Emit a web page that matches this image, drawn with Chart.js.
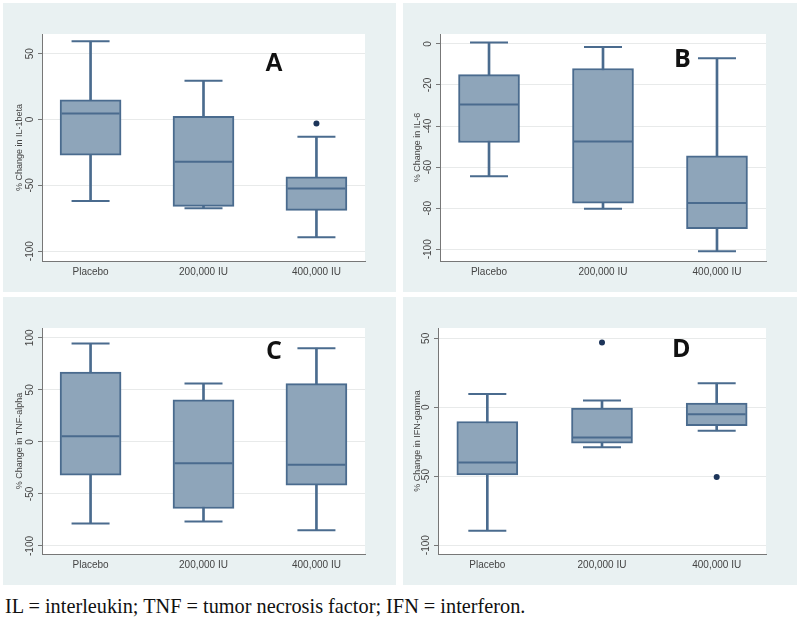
<!DOCTYPE html>
<html><head><meta charset="utf-8">
<script src="https://cdn.jsdelivr.net/npm/chart.js@4.4.1/dist/chart.umd.min.js"></script>
<style>
html,body{margin:0;padding:0;background:#fff;width:800px;height:626px;overflow:hidden;}
.panel{position:absolute;background:#e9f1f2;}
.panel canvas{position:absolute;left:0;top:0;}
.letter{position:absolute;font-weight:bold;color:#111;line-height:1;}
#caption{position:absolute;left:5px;top:595px;font-family:"Liberation Serif",serif;font-size:20.3px;color:#111;white-space:nowrap;}
</style></head><body>
<div class="panel" style="left:3px;top:3px;width:393px;height:289px"><canvas id="cA" width="393" height="289"></canvas></div>
<div class="panel" style="left:403px;top:3px;width:394px;height:289px"><canvas id="cB" width="394" height="289"></canvas></div>
<div class="panel" style="left:3px;top:297px;width:393px;height:288px"><canvas id="cC" width="393" height="288"></canvas></div>
<div class="panel" style="left:403px;top:297px;width:394px;height:288px"><canvas id="cD" width="394" height="288"></canvas></div>
<div class="letter" style="left:265px;top:50px;font-family:'Liberation Sans';font-size:25px">A</div>
<div class="letter" style="left:674px;top:45px;font-family:'Open Sans';font-size:25px">B</div>
<div class="letter" style="left:266px;top:337px;font-family:'Open Sans';font-size:25px">C</div>
<div class="letter" style="left:672px;top:335px;font-family:'Open Sans';font-size:25px">D</div>
<div id="caption">IL = interleukin; TNF = tumor necrosis factor; IFN = interferon.</div>
<script>
// ---- data ----
const categories = ['Placebo', '200,000 IU', '400,000 IU'];

// A: % Change in IL-1beta
const il1Low  = [-62, -67.5, -89.5];
const il1Q1   = [-27, -66, -69];
const il1Med  = [4.5, -32, -52.5];
const il1Q3   = [15, 2.5, -43.5];
const il1High = [59.5, 29.5, -13];
const il1OutGroup = [2];
const il1OutValue = [-3];
const il1Ticks = [50, 0, -50, -100];

// B: % Change in IL-6
const il6Low  = [-64.5, -80.3, -101];
const il6Q1   = [-48, -77.5, -90];
const il6Med  = [-29.5, -47.5, -77.5];
const il6Q3   = [-15, -12, -54.5];
const il6High = [0.7, -1.5, -7];
const il6OutGroup = [];
const il6OutValue = [];
const il6Ticks = [0, -20, -40, -60, -80, -100];

// C: % Change in TNF-alpha
const tnfLow  = [-78.5, -76.5, -85];
const tnfQ1   = [-32, -64, -41.5];
const tnfMed  = [5.5, -20.5, -22];
const tnfQ3   = [67, 40.5, 56];
const tnfHigh = [94.5, 56, 90];
const tnfOutGroup = [];
const tnfOutValue = [];
const tnfTicks = [100, 50, 0, -50, -100];

// D: % Change in IFN-gamma
const ifnLow  = [-89.5, -29, -17];
const ifnQ1   = [-49, -26, -13.3];
const ifnMed  = [-40, -22, -5];
const ifnQ3   = [-10.3, -0.6, 3];
const ifnHigh = [9.7, 5, 17.5];
const ifnOutGroup = [1, 2];
const ifnOutValue = [47, -50.5];
const ifnTicks = [50, 0, -50, -100];

// ---- styling ----
const LINE = '#4a6b8e';
const FILL = '#8ea5ba';
const DOT = '#1d355a';

const whiteArea = {
  id: 'whiteArea',
  beforeDraw(chart) {
    const a = chart.chartArea, ctx = chart.ctx;
    ctx.save(); ctx.fillStyle = '#ffffff';
    ctx.fillRect(a.left, a.top, a.right - a.left, a.bottom - a.top);
    ctx.restore();
  }
};

function makeChart(id, title, low, q1, med, q3, high, outG, outV, ticks, ymin, ymax, geo) {
  const idx = categories.map((c, i) => i);
  new Chart(document.getElementById(id), {
    type: 'bar',
    data: {
      datasets: [
        { type: 'bar', data: idx.map(i => ({x: i, y: [low[i], high[i]]})),
          backgroundColor: LINE, borderWidth: 0, barThickness: 2, grouped: false, order: 3 },
        { type: 'bar', data: idx.map(i => ({x: i, y: [q1[i], q3[i]]})),
          backgroundColor: FILL, borderColor: LINE, borderWidth: 2, borderSkipped: false,
          barThickness: 61, grouped: false, order: 2 },
        { type: 'line', data: idx.map(i => ({x: i, y: low[i]})).concat(idx.map(i => ({x: i, y: high[i]}))),
          showLine: false, pointStyle: 'line', pointRadius: 19, pointBorderWidth: 2,
          pointBorderColor: LINE, order: 1 },
        { type: 'line', data: idx.map(i => ({x: i, y: med[i]})),
          showLine: false, pointStyle: 'line', pointRadius: 29, pointBorderWidth: 2,
          pointBorderColor: LINE, order: 1 },
        { type: 'line', data: outG.map((g, k) => ({x: g, y: outV[k]})),
          showLine: false, pointStyle: 'circle', pointRadius: 3, pointBorderWidth: 0,
          pointBackgroundColor: DOT, order: 0 }
      ]
    },
    options: {
      responsive: false, animation: false, devicePixelRatio: 1,
      layout: { padding: { left: 0, top: geo.top, right: geo.right, bottom: 0 } },
      plugins: { legend: { display: false }, tooltip: { enabled: false } },
      scales: {
        x: {
          type: 'linear', min: -0.43, max: 2.43, offset: false,
          afterBuildTicks: s => { s.ticks = idx.map(v => ({value: v})); },
          afterFit: s => { s.height = geo.xh; },
          grid: { drawOnChartArea: false, drawTicks: false, offset: false },
          border: { display: true, color: '#777', width: 1 },
          ticks: { callback: (v, i) => categories[i], padding: 5, color: '#444', maxRotation: 0,
                   font: { family: 'Liberation Sans', size: 10 } }
        },
        y: {
          type: 'linear', min: ymin, max: ymax,
          afterBuildTicks: s => { s.ticks = ticks.map(v => ({value: v})); },
          afterFit: s => { s.width = geo.yw; },
          grid: { color: '#e8eaea', tickColor: '#777', tickLength: 4 },
          border: { display: true, color: '#777', width: 1 },
          ticks: { minRotation: 90, maxRotation: 90, crossAlign: 'center', padding: -2, color: '#444',
                   font: { family: 'Liberation Sans', size: 10 } },
          title: { display: true, text: title, color: '#444', padding: { top: geo.tp, bottom: 0 },
                   font: { family: 'Liberation Sans', size: 9 } }
        }
      }
    },
    plugins: [whiteArea]
  });
}

makeChart('cA', '% Change in IL-1beta', il1Low, il1Q1, il1Med, il1Q3, il1High, il1OutGroup, il1OutValue, il1Ticks, -107.5, 65,
  { top: 12, right: 6, xh: 25, yw: 39, tp: 11 });
makeChart('cB', '% Change in IL-6', il6Low, il6Q1, il6Med, il6Q3, il6High, il6OutGroup, il6OutValue, il6Ticks, -105.7, 4.8,
  { top: 12, right: 9, xh: 25, yw: 37, tp: 9 });
makeChart('cC', '% Change in TNF-alpha', tnfLow, tnfQ1, tnfMed, tnfQ3, tnfHigh, tnfOutGroup, tnfOutValue, tnfTicks, -107.7, 109.4,
  { top: 8, right: 8, xh: 27, yw: 39, tp: 11 });
makeChart('cD', '% Change in IFN-gamma', ifnLow, ifnQ1, ifnMed, ifnQ3, ifnHigh, ifnOutGroup, ifnOutValue, ifnTicks, -106.4, 57.5,
  { top: 8, right: 11, xh: 26, yw: 35, tp: 9 });
</script>
</body></html>
